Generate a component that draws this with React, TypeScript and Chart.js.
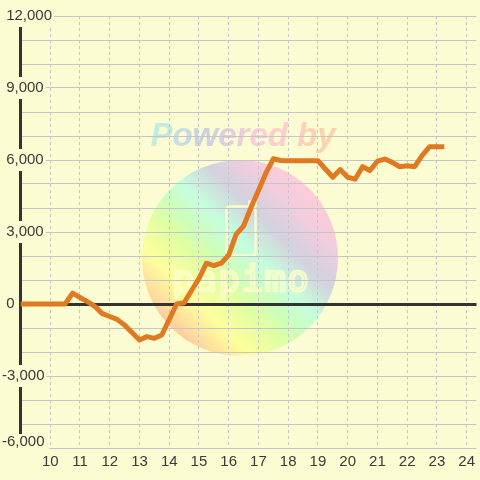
import React, { useEffect, useRef } from 'react';
import { Chart, registerables } from 'chart.js';

Chart.register(...registerables);

// Hours of day (x) and cumulative value (y) at each vertex of the line
const HOURS = [9, 10.5, 10.75, 11, 11.25, 11.5, 11.75, 12, 12.25, 12.5, 12.75, 13, 13.25, 13.5, 13.75, 14, 14.25, 14.5, 14.75, 15, 15.25, 15.5, 15.75, 16, 16.25, 16.5, 16.75, 17, 17.25, 17.5, 17.75, 18, 18.5, 19, 19.25, 19.5, 19.75, 20, 20.25, 20.5, 20.75, 21, 21.25, 21.5, 21.75, 22, 22.25, 22.5, 22.75, 23, 23.25];
const VALUES = [0, 0, 450, 270, 100, -100, -400, -520, -640, -880, -1190, -1500, -1360, -1430, -1290, -645, 0, 50, 560, 1060, 1700, 1600, 1700, 2040, 2900, 3250, 4020, 4730, 5450, 6050, 5980, 5970, 5970, 5970, 5625, 5280, 5600, 5280, 5200, 5720, 5560, 5950, 6040, 5900, 5720, 5760, 5720, 6180, 6550, 6550, 6550];

const X_TICKS = [10, 11, 12, 13, 14, 15, 16, 17, 18, 19, 20, 21, 22, 23, 24];
const Y_LABEL_VALUES = [12000, 9000, 6000, 3000, 0, -3000, -6000];
const Y_LABELS = [' 12,000', ' 9,000', ' 6,000', ' 3,000', ' 0', '-3,000', '-6,000'];

const BG = '#fcfcd2';
const GRID = '#c4c4cc';
const AXIS = '#333333';
const LINE = '#e07a22';
const TEXT = '#3a3a3a';
const FAMILY = '"Liberation Sans", Arial, sans-serif';
const FONT = { family: FAMILY, size: 15 };
const Y_MIN = -6000;

const watermark = {
  id: 'watermark',
  beforeDraw(chart: any) {
    const ctx: CanvasRenderingContext2D = chart.ctx;
    ctx.save();
    ctx.fillStyle = BG;
    ctx.fillRect(0, 0, chart.width, chart.height);

    const cx = 240, cy = 258, r = 98;
    const k = r * 0.7071;
    const g = ctx.createLinearGradient(cx - k, cy + k, cx + k, cy - k);
    g.addColorStop(0, '#ffc090');
    g.addColorStop(0.18, '#ffff90');
    g.addColorStop(0.35, '#d8ff98');
    g.addColorStop(0.45, '#c0ffb8');
    g.addColorStop(0.56, '#b8ffe0');
    g.addColorStop(0.72, '#c8c8e0');
    g.addColorStop(0.88, '#f0c0e0');
    g.addColorStop(1, '#ffc0d8');
    ctx.globalAlpha = 0.8;
    ctx.beginPath();
    ctx.arc(cx, cy, r, 0, Math.PI * 2);
    ctx.fillStyle = g;
    ctx.fill();

    // phone icon
    ctx.globalAlpha = 0.85;
    ctx.strokeStyle = '#ffffc8';
    ctx.lineWidth = 2.5;
    ctx.beginPath();
    (ctx as any).roundRect(226.5, 206.5, 29, 49, 3);
    ctx.stroke();
    ctx.beginPath();
    ctx.moveTo(249.5, 206.5);
    ctx.lineTo(249.5, 201.5);
    ctx.lineTo(255.5, 201.5);
    ctx.lineTo(255.5, 206.5);
    ctx.stroke();

    // brand text
    ctx.font = '36px "DejaVu Sans Mono", monospace';
    ctx.textAlign = 'center';
    ctx.textBaseline = 'middle';
    ctx.lineWidth = 2.5;
    const brand = 'papimo';
    for (let i = 0; i < brand.length; i++) {
      ctx.strokeText(brand[i], 183 + i * 23, 282);
    }

    // "Powered by"
    ctx.globalAlpha = 0.8;
    const tg = ctx.createLinearGradient(148, 0, 338, 0);
    tg.addColorStop(0, '#b0f0e0');
    tg.addColorStop(0.3, '#c0c4e8');
    tg.addColorStop(0.6, '#ffc0dc');
    tg.addColorStop(1, '#ffc898');
    ctx.fillStyle = tg;
    ctx.font = 'italic bold 33px ' + FAMILY;
    ctx.textAlign = 'center';
    ctx.textBaseline = 'alphabetic';
    ctx.fillText('Powered by', 243, 146);
    ctx.restore();
  },
  // hide the axis / grid behind the bottom y label (labels are drawn later, z = 1)
  beforeDatasetsDraw(chart: any) {
    const ys = chart.scales.y;
    const ctx: CanvasRenderingContext2D = chart.ctx;
    const py = ys.getPixelForValue(Y_MIN);
    ctx.save();
    ctx.fillStyle = BG;
    ctx.fillRect(0, py - 14, chart.scales.x.getPixelForValue(X_TICKS[0]) - 1, 16);
    ctx.restore();
  },
};

export default function App() {
  const ref = useRef<HTMLCanvasElement>(null);

  useEffect(() => {
    if (!ref.current) return;
    const chart = new Chart(ref.current, {
      type: 'line',
      data: {
        datasets: [
          {
            data: HOURS.map((h, i) => ({ x: h, y: VALUES[i] })),
            borderColor: LINE,
            borderWidth: 5,
            pointRadius: 0,
            tension: 0,
            borderJoinStyle: 'round',
            borderCapStyle: 'butt',
            fill: false,
          },
        ],
      },
      plugins: [watermark],
      options: {
        animation: false,
        responsive: false,
        devicePixelRatio: 1,
        layout: { padding: { left: 2, top: 16, right: 0, bottom: 0 } },
        plugins: { legend: { display: false }, tooltip: { enabled: false } },
        scales: {
          x: {
            type: 'linear',
            min: 9,
            max: 24.333,
            afterBuildTicks: (s: any) => {
              s.ticks = X_TICKS.map((v) => ({ value: v }));
            },
            afterFit: (s: any) => {
              s.height = 32;
            },
            grid: {
              color: GRID,
              lineWidth: 1,
              drawTicks: false,
            },
            border: { display: false, dash: [3, 3] },
            ticks: {
              font: FONT,
              color: TEXT,
              padding: 5,
              maxRotation: 0,
              autoSkip: false,
              callback: (v: any) => String(v),
            },
          },
          y: {
            type: 'linear',
            min: Y_MIN,
            max: 12000,
            afterFit: (s: any) => {
              s.width = 18.5;
            },
            grid: {
              color: (c: any) => (c.tick && c.tick.value === 0 ? AXIS : GRID),
              lineWidth: (c: any) => (c.tick && c.tick.value === 0 ? 3 : 1),
              drawTicks: false,
            },
            border: { color: AXIS, width: 3 },
            ticks: {
              z: 1,
              stepSize: 1000,
              autoSkip: false,
              font: (c: any) =>
                c.tick && c.tick.value === Y_MIN
                  ? { family: FAMILY, size: 15, lineHeight: '12px' }
                  : FONT,
              color: TEXT,
              mirror: true,
              padding: -18.5,
              crossAlign: 'near',
              backdropColor: BG,
              backdropPadding: 2,
              showLabelBackdrop: (c: any) =>
                c.tick && c.tick.value !== Y_MIN && Y_LABEL_VALUES.indexOf(c.tick.value) >= 0,
              callback: (v: any) => {
                const i = Y_LABEL_VALUES.indexOf(Number(v));
                if (i < 0) return '';
                return Number(v) === Y_MIN ? [Y_LABELS[i], ''] : Y_LABELS[i];
              },
            },
          },
        },
      } as any,
    });
    return () => chart.destroy();
  }, []);

  return (
    <div style={{ position: 'fixed', left: 0, top: 0, width: 480, height: 480 }}>
      <canvas ref={ref} width={480} height={480} style={{ display: 'block' }} />
    </div>
  );
}
